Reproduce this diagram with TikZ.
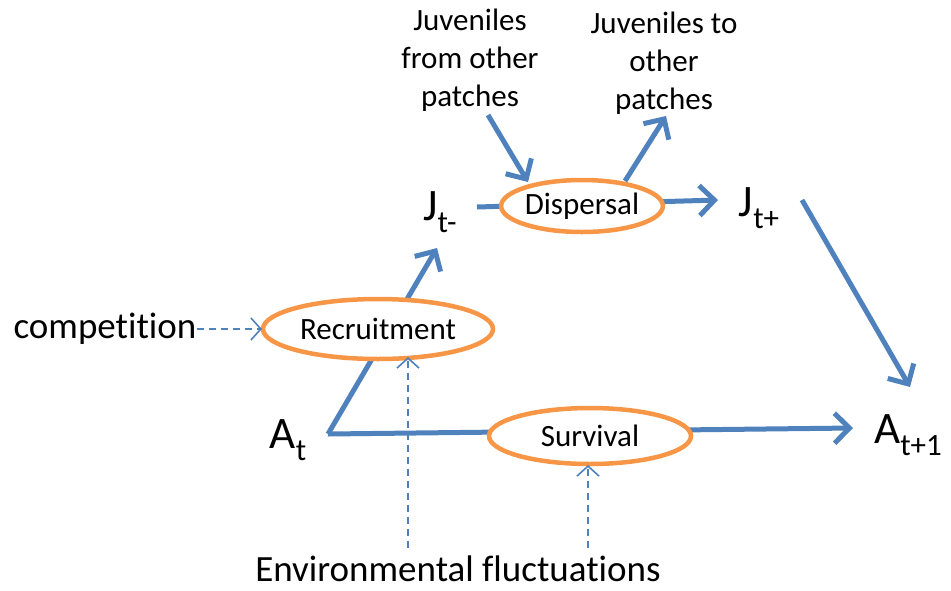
\documentclass[tikz,border=0pt]{standalone}
\usepackage{fontspec}
\setmainfont{Carlito}[Ligatures=NoCommon]
\usetikzlibrary{arrows.meta,shapes.geometric}
\definecolor{flowblue}{HTML}{4F81BD}
\definecolor{procorange}{HTML}{F79646}
\newcommand\bigsub[1]{\raisebox{-0.28em}{\fontsize{31pt}{31pt}\selectfont #1}}
\pgfdeclarelayer{bg}
\pgfsetlayers{bg,main}
\begin{document}
\begin{tikzpicture}[x=1pt,y=-1pt,
  proc/.style={ellipse, draw=procorange, line width=4.5pt, fill=white, inner sep=0pt, font=\fontsize{31pt}{31pt}\selectfont},
  lab/.style={inner sep=0pt, font=\fontsize{31pt}{38pt}\selectfont, align=center},
  biglab/.style={inner sep=0pt, font=\fontsize{37pt}{37pt}\selectfont},
  var/.style={inner sep=0pt, font=\fontsize{45pt}{45pt}\selectfont},
  flow/.style={draw=flowblue, line width=5pt, -{Straight Barb[length=15pt,width=30pt]}},
  infl/.style={draw=flowblue, line width=1.6pt, dash pattern=on 7pt off 5pt, -{Straight Barb[length=10pt,width=22pt]}}]
\useasboundingbox (0,0) rectangle (951,590);

% processes
\node[proc, minimum width=230pt, minimum height=60pt] (rec) at (378,329) {Recruitment};
\node[proc, minimum width=152pt, minimum height=52pt] (disp) at (582,206) {Dispersal};
\node[proc, minimum width=202pt, minimum height=56pt] (surv) at (590,436) {Survival};

% variables
\node[var] (at) at (288,440) {A\bigsub{t}};
\node[var] (jm) at (440,212) {J\bigsub{t-}};
\node[var] (jp) at (759,208) {J\bigsub{t+}};
\node[var] (at1) at (908,435) {A\bigsub{t+1}};

% texts
\node[lab] (jin) at (470,60) {Juveniles\\from other\\patches};
\node[lab] (jout) at (664,63) {Juveniles to\\other\\patches};
\node[biglab] (comp) at (105,329) {competition};
\node[biglab] (env) at (458,569) {Environmental fluctuations};

% coordinates for connector ends
\coordinate (corner) at (328,434);
\coordinate (jmtip) at (437,248);
\coordinate (at1tip) at (853,428);
\coordinate (jmout) at (477,207);
\coordinate (jptip) at (718,200);
\coordinate (jinstart) at (488,115);
\coordinate (jintip) at (528,182);
\coordinate (joutstart) at (625,181);
\coordinate (jouttip) at (666,116);
\coordinate (jpstart) at (802,200);
\coordinate (at1top) at (910,387);
\coordinate (compend) at (197,329);
\coordinate (comptip) at (262,329);
\coordinate (env1) at (408,548);
\coordinate (env1tip) at (408,357);
\coordinate (env2) at (588,548);
\coordinate (env2tip) at (588,465);

\begin{pgfonlayer}{bg}
\draw[flow] (corner) -- (jmtip);
\draw[flow] (corner) -- (at1tip);
\draw[flow] (jmout) -- (jptip);
\end{pgfonlayer}
\draw[flow] (jinstart) -- (jintip);
\draw[flow] (joutstart) -- (jouttip);
\draw[flow] (jpstart) -- (at1top);
\draw[infl] (compend) -- (comptip);
\draw[infl] (env1) -- (env1tip);
\draw[infl] (env2) -- (env2tip);
\end{tikzpicture}
\end{document}
